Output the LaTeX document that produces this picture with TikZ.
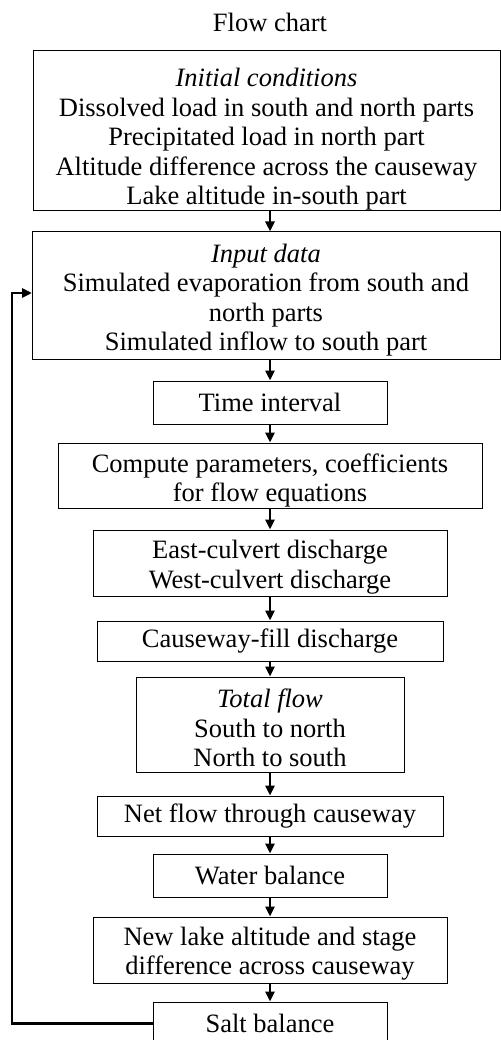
\documentclass[tikz,border=0pt]{standalone}
\usepackage{fontspec}
\setmainfont{Liberation Serif}
\usetikzlibrary{arrows.meta}
\newcommand{\lowr}[1]{\rule{0pt}{\dimexpr 24pt+#1\relax}}
\begin{document}
\begin{tikzpicture}[x=1pt,y=-1pt,
  box/.style={draw,line width=1pt,inner sep=0pt,align=center,
    font=\fontsize{26.5}{29.5}\selectfont},
  conn/.style={line width=2.5pt,-{Triangle[length=10pt,width=9pt]}}]
\useasboundingbox (0,0) rectangle (500,1040);
\node[font=\fontsize{26.5}{29.5}\selectfont] (title) at (270,22) {Flow chart};
\node[box,minimum width=467pt,minimum height=157pt] (b1) at (266.5,130.5)
  {\lowr{12pt}\textit{Initial conditions}\\Dissolved load in south and north parts\\Precipitated load in north part\\Altitude difference across the causeway\\Lake altitude in-south part};
\node[box,minimum width=468pt,minimum height=127pt] (b2) at (266,295.5)
  {\lowr{4pt}\textit{Input data}\\Simulated evaporation from south and\\north parts\\Simulated inflow to south part};
\node[box,minimum width=234pt,minimum height=43pt] (b3) at (270,402.5) {Time interval};
\node[box,minimum width=424pt,minimum height=65pt] (b4) at (270,475.5) {\lowr{5pt}Compute parameters, coefficients\\for flow equations};
\node[box,minimum width=354pt,minimum height=66pt] (b5) at (270,563) {\lowr{3pt}East-culvert discharge\\West-culvert discharge};
\node[box,minimum width=346pt,minimum height=40pt] (b6) at (270,641) {Causeway-fill discharge};
\node[box,minimum width=268pt,minimum height=95pt] (b7) at (270,724.5) {\lowr{2pt}\textit{Total flow}\\South to north\\North to south};
\node[box,minimum width=346pt,minimum height=40pt] (b8) at (270,816) {Net flow through causeway};
\node[box,minimum width=234pt,minimum height=43pt] (b9) at (270,875.5) {Water balance};
\node[box,minimum width=354pt,minimum height=66pt] (b10) at (270,950) {\lowr{2pt}New lake altitude and stage\\difference across causeway};
\node[box,minimum width=234pt,minimum height=43pt] (b11) at (270,1023.5) {Salt balance};
\draw[conn] (b1.south -| 270,0) -- (b2.north -| 270,0);
\draw[conn] (b2.south -| 270,0) -- (b3.north);
\draw[conn] (b3) -- (b4);
\draw[conn] (b4) -- (b5);
\draw[conn] (b5) -- (b6);
\draw[conn] (b6) -- (b7);
\draw[conn] (b7) -- (b8);
\draw[conn] (b8) -- (b9);
\draw[conn] (b9) -- (b10);
\draw[conn] (b10) -- (b11);
\coordinate (loop) at (12,1023.5);
\coordinate (entry) at (32,293);
\draw[conn] (b11.west) -- (loop) |- (entry);
\end{tikzpicture}
\end{document}
